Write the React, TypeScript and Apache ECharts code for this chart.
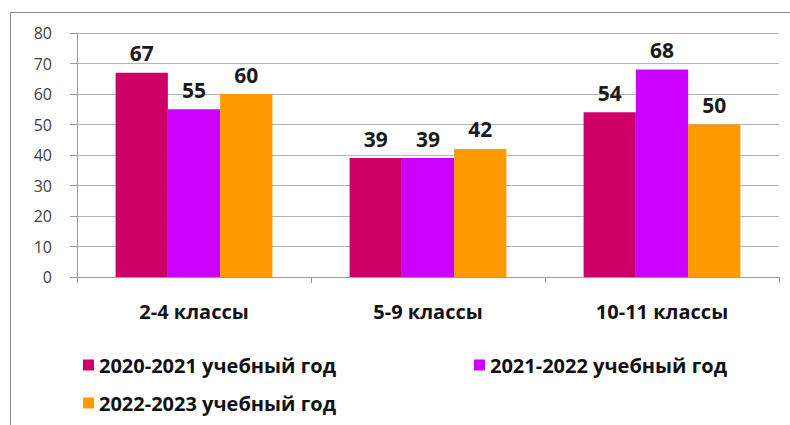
import React, { useEffect, useRef } from "react";
import * as echarts from "echarts";

const categories = ["2-4 классы", "5-9 классы", "10-11 классы"];
const seriesNames = ["2020-2021 учебный год", "2021-2022 учебный год", "2022-2023 учебный год"];
const values2020 = [67, 39, 54];
const values2021 = [55, 39, 68];
const values2022 = [60, 42, 50];
const colors = ["#CC0066", "#CC00FF", "#FF9900"];

const FONT = "'Open Sans', 'Noto Sans', sans-serif";

export default function App() {
  const ref = useRef<HTMLDivElement>(null);
  useEffect(() => {
    document.body.style.margin = "0";
    const chart = echarts.init(ref.current!, null, { renderer: "svg" });
    const data = [values2020, values2021, values2022];
    const legendPos = [
      { left: 78, top: 350 },
      { left: 469, top: 350 },
      { left: 78, top: 388 },
    ];
    chart.setOption({
      animation: false,
      backgroundColor: "#fff",
      graphic: [
        {
          type: "rect",
          shape: { x: 10.5, y: 12.5, width: 800, height: 430 },
          style: { fill: "none", stroke: "#8a8a8a", lineWidth: 1 },
          silent: true,
        },
      ],
      legend: seriesNames.map((n, i) => ({
        data: [n],
        left: legendPos[i].left,
        top: legendPos[i].top,
        itemWidth: 11,
        itemHeight: 11,
        icon: "rect",
        itemGap: 4,
        textStyle: { fontFamily: FONT, fontWeight: "bold", fontSize: 20, color: "#111" },
      })),
      grid: { left: 77, right: 11, top: 33, bottom: 148, containLabel: false },
      xAxis: {
        type: "category",
        data: categories,
        axisLine: { lineStyle: { color: "#999" } },
        axisTick: { show: true, length: 6, alignWithLabel: false, lineStyle: { color: "#999" } },
        axisLabel: { margin: 24, fontFamily: FONT, fontWeight: "bold", fontSize: 20, color: "#111" },
      },
      yAxis: {
        type: "value",
        min: 0,
        max: 80,
        interval: 10,
        axisLine: { show: true, lineStyle: { color: "#999" } },
        axisTick: { show: true, length: 7, lineStyle: { color: "#999" } },
        splitLine: { lineStyle: { color: "#b5b5b5" } },
        axisLabel: { margin: 25, fontFamily: FONT, fontSize: 16, color: "#404040" },
      },
      series: seriesNames.map((n, i) => ({
        name: n,
        type: "bar",
        data: data[i],
        barGap: "0%",
        barCategoryGap: "33%",
        itemStyle: { color: colors[i] },
        label: {
          show: true,
          position: "top",
          distance: 9,
          fontFamily: FONT,
          fontWeight: "bold",
          fontSize: 21,
          color: "#1a1a1a",
        },
      })),
    });
    return () => chart.dispose();
  }, []);
  return <div ref={ref} style={{ width: 790, height: 425 }} />;
}
